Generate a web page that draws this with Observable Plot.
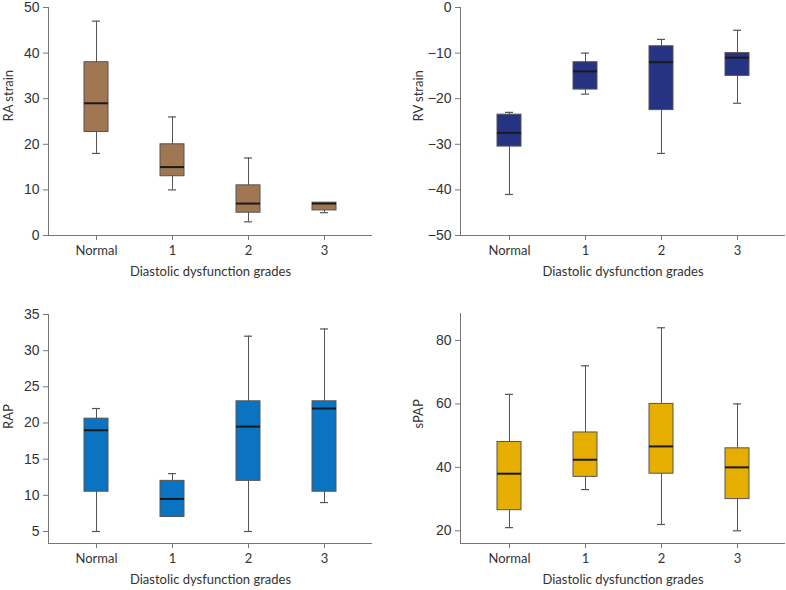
<!DOCTYPE html>
<html>
<head>
<meta charset="utf-8">
<script src="https://cdn.jsdelivr.net/npm/d3@7"></script>
<script src="https://cdn.jsdelivr.net/npm/@observablehq/plot@0.6"></script>
<style>
  html, body { margin: 0; padding: 0; background: #fff; }
  #wrap { position: relative; width: 786px; height: 590px; }
  .cell { position: absolute; width: 393px; height: 295px; }
</style>
</head>
<body>
<div id="wrap">
  <div class="cell" id="p1" style="left:0;top:0"></div>
  <div class="cell" id="p2" style="left:393px;top:0"></div>
  <div class="cell" id="p3" style="left:0;top:295px"></div>
  <div class="cell" id="p4" style="left:393px;top:295px"></div>
</div>
<script>
const grades = ["Normal", "1", "2", "3"];
const xTitle = "Diastolic dysfunction grades";

// RA strain
const raMin = [18, 10, 3, 5];
const raQ1  = [22.7, 13, 5, 5.5];
const raMed = [29, 15, 7, 7];
const raQ3  = [38, 20, 11, 7.2];
const raMax = [47, 26, 17, 7.2];

// RV strain
const rvMin = [-41, -19, -32, -21];
const rvQ1  = [-30.5, -18, -22.5, -15];
const rvMed = [-27.5, -14, -12, -11];
const rvQ3  = [-23.5, -12, -8.5, -10];
const rvMax = [-23, -10, -7, -5];

// RAP
const rapMin = [5, 7, 5, 9];
const rapQ1  = [10.5, 7, 12, 10.5];
const rapMed = [19, 9.5, 19.5, 22];
const rapQ3  = [20.6, 12, 23, 23];
const rapMax = [22, 13, 32, 33];

// sPAP
const spMin = [21, 33, 22, 20];
const spQ1  = [26.5, 37, 38, 30];
const spMed = [38, 42.4, 46.6, 40];
const spQ3  = [48, 51, 60, 46];
const spMax = [63, 72, 84, 60];

const raTicks = [0, 10, 20, 30, 40, 50];
const rvTicks = [-50, -40, -30, -20, -10, 0];
const rapTicks = [5, 10, 15, 20, 25, 30, 35];
const spTicks = [20, 40, 60, 80];

function table(mn, q1, md, q3, mx) {
  return grades.map((g, i) => ({g, min: mn[i], q1: q1[i], med: md[i], q3: q3[i], max: mx[i]}));
}

function panel({rows, domain, ticks, label, color, mL, mR, mT, mB, dxLabel}) {
  return Plot.plot({
    width: 393,
    height: 295,
    marginLeft: mL,
    marginRight: mR,
    marginTop: mT,
    marginBottom: mB,
    style: {fontFamily: "Lato, 'Liberation Sans', sans-serif", fontSize: "13px", color: "#333", background: "#fff"},
    x: {type: "band", domain: grades, paddingInner: 0.688, paddingOuter: 0.455, label: null, axis: null},
    y: {domain, label: null, axis: null},
    marks: [
      Plot.ruleX(rows, {x: "g", y1: "min", y2: "max", stroke: "#555", strokeWidth: 1}),
      Plot.tickY(rows, {x: "g", y: "max", stroke: "#555", strokeWidth: 1.2, inset: 8, filter: d => d.max > d.q3}),
      Plot.tickY(rows, {x: "g", y: "min", stroke: "#555", strokeWidth: 1.2, inset: 8, filter: d => d.min < d.q1}),
      Plot.barY(rows, {x: "g", y1: "q1", y2: "q3", fill: color, stroke: "#555", strokeWidth: 1}),
      Plot.tickY(rows, {x: "g", y: "med", stroke: "#1a1a1a", strokeWidth: 2}),
      Plot.axisY({ticks, tickSize: 5, tickPadding: 4, fontSize: 14, fontFamily: "'Liberation Sans', Arial, sans-serif", stroke: "#777", fill: "#333"}),
      Plot.axisX({tickSize: 5, tickPadding: 5, fontSize: 13, stroke: "#777", fill: "#333"}),
      Plot.ruleY([domain[0]], {stroke: "#777", strokeWidth: 1}),
      Plot.frame({anchor: "left", stroke: "#777"}),
      Plot.text([xTitle], {frameAnchor: "bottom", dy: 40, fontSize: 13, fill: "#333"}),
      Plot.text([label], {frameAnchor: "left", rotate: -90, dx: dxLabel, fontSize: 13, fill: "#333"})
    ]
  });
}

document.getElementById("p1").append(panel({
  rows: table(raMin, raQ1, raMed, raQ3, raMax), domain: [0, 50], ticks: raTicks,
  label: "RA strain", color: "#a07653", mL: 48, mR: 21, mT: 7, mB: 60, dxLabel: -40
}));
document.getElementById("p2").append(panel({
  rows: table(rvMin, rvQ1, rvMed, rvQ3, rvMax), domain: [-50, 0], ticks: rvTicks,
  label: "RV strain", color: "#263282", mL: 67, mR: 1, mT: 7, mB: 60, dxLabel: -42
}));
document.getElementById("p3").append(panel({
  rows: table(rapMin, rapQ1, rapMed, rapQ3, rapMax), domain: [3.34, 35], ticks: rapTicks,
  label: "RAP", color: "#0a74c2", mL: 48, mR: 21, mT: 19, mB: 47, dxLabel: -40
}));
document.getElementById("p4").append(panel({
  rows: table(spMin, spQ1, spMed, spQ3, spMax), domain: [16, 88.5], ticks: spTicks,
  label: "sPAP", color: "#e6ae00", mL: 67, mR: 1, mT: 18, mB: 47, dxLabel: -42
}));
</script>
</body>
</html>
